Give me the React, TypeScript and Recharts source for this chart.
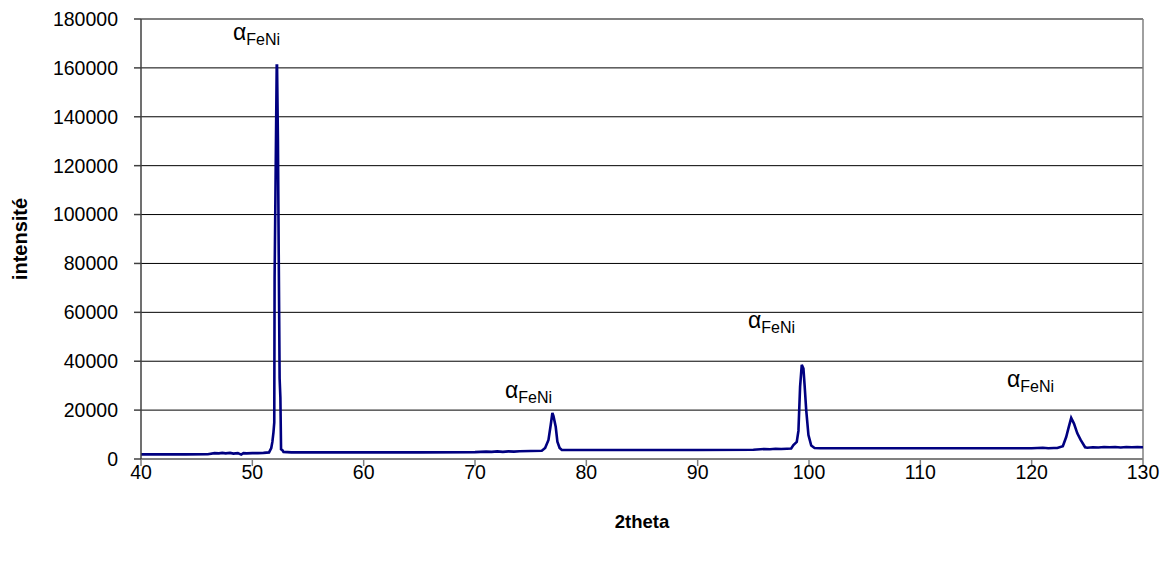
import React from 'react';
import { LineChart, Line, XAxis, YAxis, CartesianGrid, ReferenceLine, ReferenceDot } from 'recharts';

const twoTheta = [
  40, 42, 44, 46, 46.6, 47, 47.3, 47.6, 48, 48.3, 48.7, 49, 49.2, 49.5, 50, 50.5, 51, 51.5,
  51.7, 51.8, 51.9, 51.97, 52.0, 52.19, 52.22, 52.3, 52.45, 52.52, 52.58, 52.7, 52.8, 53.5,
  56, 60, 65, 70, 71, 71.5, 72, 72.5, 73, 73.5, 74, 75, 76, 76.3, 76.6, 76.8, 76.95, 77.05,
  77.25, 77.4, 77.6, 77.8, 80, 85, 90, 95, 96, 96.5, 97, 97.5, 98, 98.4, 98.6, 98.9, 99.05,
  99.2, 99.35, 99.5, 99.6, 99.75, 99.95, 100.2, 100.5, 101, 105, 110, 115, 120, 121, 121.5,
  122, 122.3, 122.8, 123.1, 123.3, 123.55, 123.8, 124.1, 124.4, 124.8, 125, 125.5, 126, 126.5,
  127, 127.5, 128, 128.5, 129, 129.5, 130,
];

const intensite = [
  1900, 1900, 1900, 1950, 2400, 2300, 2500, 2300, 2500, 2200, 2400, 1800, 2400, 2300, 2400, 2400, 2500, 2700,
  4500, 7000, 11000, 15000, 74000, 161000, 161000, 130000, 33000, 25000, 4000, 3600, 2900, 2700,
  2700, 2700, 2700, 2800, 3000, 2900, 3100, 2900, 3100, 3000, 3200, 3300, 3400, 4500, 7800, 13900, 18800, 17500,
  13200, 7100, 4500, 3700, 3700, 3700, 3700, 3800, 4100, 4000, 4200, 4100, 4200, 4300, 5700, 7000, 11500,
  29600, 38500, 37000, 30500, 20000, 9800, 5500, 4500, 4400, 4400, 4400, 4400, 4400, 4600, 4400,
  4500, 4500, 5200, 9000, 12500, 16800, 14500, 10500, 7800, 4800, 4600, 4800, 4700, 4900,
  4800, 4900, 4700, 4900, 4800, 4900, 4800,
];

const xTicks = [40, 50, 60, 70, 80, 90, 100, 110, 120, 130];
const yTicks = [0, 20000, 40000, 60000, 80000, 100000, 120000, 140000, 160000, 180000];

const peakLabelX = [48.26, 72.7, 94.52, 117.79];
const peakLabelY = [171400, 24950, 53590, 29450];
const peakLabelMain = 'α';
const peakLabelSub = 'FeNi';

const data = twoTheta.map((x, i) => ({ x, y: intensite[i] }));

const FONT = '"Liberation Sans", Arial, sans-serif';

const PeakLabel = (props: any) => {
  const vb = props.viewBox || {};
  const x = (vb.x || 0) + (vb.width || 0) / 2;
  const y = (vb.y || 0) + (vb.height || 0) / 2;
  return (
    <text x={x} y={y} fontFamily={FONT} fill="#000">
      <tspan fontSize={23}>{peakLabelMain}</tspan>
      <tspan fontSize={16} dy={5}>{peakLabelSub}</tspan>
    </text>
  );
};

const XTitle = (props: any) => {
  const vb = props.viewBox || {};
  return (
    <text x={vb.x + vb.width / 2} y={vb.y + 69} textAnchor="middle" fontFamily={FONT}
      fontWeight="bold" fontSize={18.5} fill="#000">2theta</text>
  );
};

const YTitle = (props: any) => {
  const vb = props.viewBox || {};
  const cx = vb.x - 41;
  const cy = vb.y + vb.height / 2;
  return (
    <text x={cx} y={cy} textAnchor="middle" dominantBaseline="central" fontFamily={FONT}
      fontWeight="bold" fontSize={20} fill="#000" transform={`rotate(-90 ${cx} ${cy})`}>intensité</text>
  );
};

export default function App() {
  return (
    <div style={{ position: 'absolute', left: 0, top: 0, background: '#fff' }}>
      <LineChart width={1172} height={565} data={data}
        margin={{ top: 19, right: 29, bottom: 76, left: 61 }}>
        <CartesianGrid horizontal={true} vertical={false} stroke="#000" strokeWidth={1} />
        <XAxis dataKey="x" type="number" domain={[40, 130]} ticks={xTicks} allowDataOverflow
          height={30} tickSize={7} tickMargin={-1} stroke="#808080" strokeWidth={1.5}
          tick={{ fill: '#000', fontSize: 19.5, fontFamily: FONT }} label={<XTitle />} />
        <YAxis type="number" domain={[0, 180000]} ticks={yTicks} allowDataOverflow
          width={80} tickSize={7} tickMargin={16} stroke="#404040" strokeWidth={1.5}
          tick={{ fill: '#000', fontSize: 19.5, fontFamily: FONT }} label={<YTitle />} />
        <ReferenceLine y={180000} stroke="#808080" strokeWidth={1.5} />
        <ReferenceLine x={130} stroke="#808080" strokeWidth={1.5} />
        <Line type="linear" dataKey="y" stroke="#000080" strokeWidth={2.6} dot={false}
          isAnimationActive={false} />
        {peakLabelX.map((lx, i) => (
          <ReferenceDot key={i} x={lx} y={peakLabelY[i]} r={0} fill="none" stroke="none"
            label={<PeakLabel />} />
        ))}
      </LineChart>
    </div>
  );
}
